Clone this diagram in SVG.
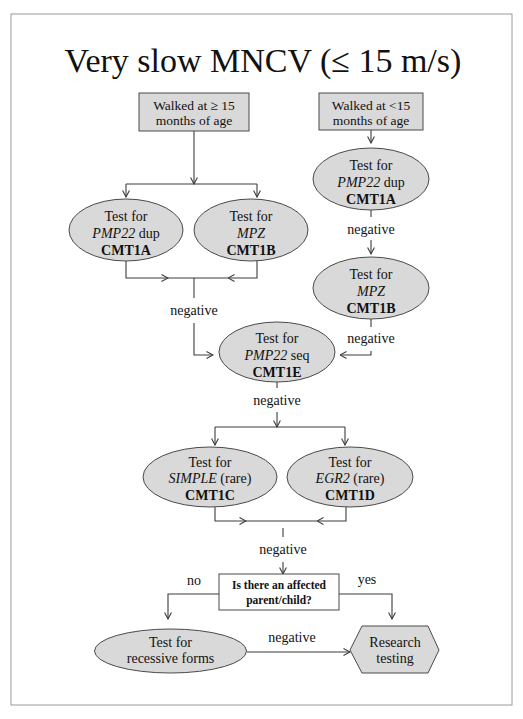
<svg xmlns="http://www.w3.org/2000/svg" width="523" height="719" viewBox="0 0 523 719" font-family="'Liberation Serif', 'Times New Roman', Times, serif">
<style>
text{fill:#111;text-anchor:middle;font-family:'Liberation Serif','Times New Roman',Times,serif}
.t{font-size:14px}
.b{font-size:14px;font-weight:bold}
.bx{font-size:13.5px}
.q{font-size:11.5px;font-weight:bold}
.lbl{font-size:14px}
.node{fill:#d9d9d9;stroke:#4a4a4a;stroke-width:1}
.c{fill:none;stroke:#3c3c3c;stroke-width:1.1}
.a{marker-end:url(#arr)}
</style>
<defs>
<marker id="arr" viewBox="0 0 8 8" refX="7.5" refY="4" markerWidth="8" markerHeight="8" markerUnits="userSpaceOnUse" orient="auto">
<path d="M1,0.6 L7.5,4 L1,7.4" fill="none" stroke="#3c3c3c" stroke-width="1.1"/>
</marker>
</defs>
<rect x="11" y="14" width="501" height="691" fill="#fff" stroke="#9a9a9a" stroke-width="1"/>
<text id="title" x="263" y="72" style="font-size:34px">Very slow MNCV (≤ 15 m/s)</text>

<g id="connectors">
<path class="c a" d="M194,131 V184"/>
<path class="c" d="M126,184 H257"/>
<path class="c a" d="M126,184 V197"/>
<path class="c a" d="M257,184 V197"/>
<path class="c a" d="M126,261 V278 H168"/>
<path class="c" d="M168,278 H228"/>
<path class="c a" d="M257,261 V278 H228"/>
<path class="c" d="M194,278 V298"/>
<path class="c a" d="M194,323 V355 H213"/>
<path class="c a" d="M371,130 V143"/>
<path class="c" d="M371,210 V217"/>
<path class="c a" d="M371,240 V254"/>
<path class="c" d="M371,319 V327"/>
<path class="c a" d="M371,351 V355 H340"/>
<path class="c" d="M277,382 V388"/>
<path class="c a" d="M277,412 V427"/>
<path class="c" d="M215,427 H345"/>
<path class="c a" d="M215,427 V445"/>
<path class="c a" d="M345,427 V445"/>
<path class="c a" d="M215,507 V521 H246"/>
<path class="c" d="M246,521 H317"/>
<path class="c a" d="M346,507 V521 H317"/>
<path class="c" d="M283,528 V537"/>
<path class="c a" d="M283,562 V574"/>
<path class="c a" d="M219,594 H168 V619"/>
<path class="c a" d="M339,594 H392 V619"/>
<path class="c a" d="M247,652 H350"/>
<text class="lbl" x="194" y="315">negative</text>
<text class="lbl" x="371" y="234">negative</text>
<text class="lbl" x="371" y="343">negative</text>
<text class="lbl" x="277" y="405">negative</text>
<text class="lbl" x="283" y="554">negative</text>
<text class="lbl" x="194" y="585">no</text>
<text class="lbl" x="367" y="584">yes</text>
<text class="lbl" x="292" y="642">negative</text>
</g>

<g id="walked-ge15">
<rect class="node" x="139" y="93" width="110" height="38"/>
<text class="bx" x="194" y="110">Walked at ≥ 15</text>
<text class="bx" x="194" y="125">months of age</text>
</g>
<g id="walked-lt15">
<rect class="node" x="319" y="93" width="104" height="37"/>
<text class="bx" x="371" y="110">Walked at &lt;15</text>
<text class="bx" x="371" y="125">months of age</text>
</g>

<g id="cmt1a-left">
<ellipse class="node" cx="126" cy="230" rx="57" ry="31"/>
<text class="t" x="126" y="221">Test for</text>
<text class="t" x="126" y="238"><tspan font-style="italic">PMP22</tspan> dup</text>
<text class="b" x="126" y="255">CMT1A</text>
</g>
<g id="cmt1b-left">
<ellipse class="node" cx="251" cy="230" rx="57" ry="31"/>
<text class="t" x="251" y="221">Test for</text>
<text class="t" x="251" y="238" font-style="italic">MPZ</text>
<text class="b" x="251" y="255">CMT1B</text>
</g>
<g id="cmt1a-right">
<ellipse class="node" cx="371" cy="179" rx="58" ry="31"/>
<text class="t" x="371" y="170">Test for</text>
<text class="t" x="371" y="187"><tspan font-style="italic">PMP22</tspan> dup</text>
<text class="b" x="371" y="204">CMT1A</text>
</g>
<g id="cmt1b-right">
<ellipse class="node" cx="371" cy="288" rx="58" ry="31"/>
<text class="t" x="371" y="279">Test for</text>
<text class="t" x="371" y="296" font-style="italic">MPZ</text>
<text class="b" x="371" y="313">CMT1B</text>
</g>
<g id="cmt1e">
<ellipse class="node" cx="277" cy="352" rx="58" ry="30"/>
<text class="t" x="277" y="343">Test for</text>
<text class="t" x="277" y="360"><tspan font-style="italic">PMP22</tspan> seq</text>
<text class="b" x="277" y="377">CMT1E</text>
</g>
<g id="cmt1c">
<ellipse class="node" cx="210" cy="477" rx="67" ry="30"/>
<text class="t" x="210" y="467">Test for</text>
<text class="t" x="210" y="483"><tspan font-style="italic">SIMPLE</tspan> (rare)</text>
<text class="b" x="210" y="500">CMT1C</text>
</g>
<g id="cmt1d">
<ellipse class="node" cx="350" cy="477" rx="63" ry="30"/>
<text class="t" x="350" y="467">Test for</text>
<text class="t" x="350" y="483"><tspan font-style="italic">EGR2</tspan> (rare)</text>
<text class="b" x="350" y="500">CMT1D</text>
</g>
<g id="affected">
<rect x="219" y="574" width="120" height="36" fill="#fff" stroke="#4a4a4a" stroke-width="1"/>
<text class="q" x="279" y="589">Is there an affected</text>
<text class="q" x="279" y="604">parent/child?</text>
</g>
<g id="recessive">
<ellipse class="node" cx="170.5" cy="651" rx="76" ry="22"/>
<text class="t" x="170.5" y="647">Test for</text>
<text class="t" x="170.5" y="663">recessive forms</text>
</g>
<g id="research">
<polygon class="node" points="350,650 362,626 428,626 439,650 428,673 362,673"/>
<text class="t" x="395" y="647">Research</text>
<text class="t" x="395" y="663">testing</text>
</g>
</svg>
